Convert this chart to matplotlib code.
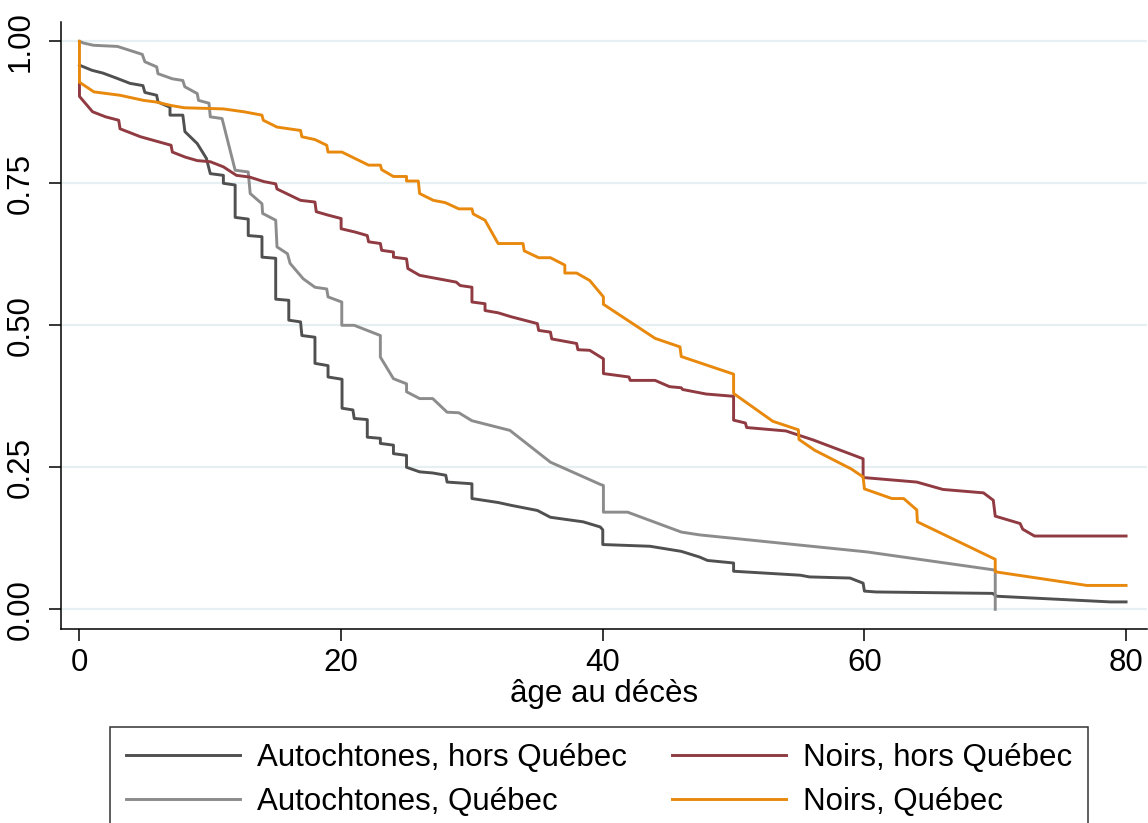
import matplotlib
matplotlib.use('Agg')
import matplotlib.pyplot as plt

# Kaplan-Meier style survival curves
aut_hq_age = [0, 0.95, 1.8, 2.85, 3.86, 4.85, 5.0, 5.9, 6.0, 6.92, 6.92, 7.9, 8.06, 9.0, 9.7, 10.0,
              11.0, 11.0, 11.9, 11.9, 12.9, 12.9, 13.95, 13.95, 15.0, 15.0, 16.0, 16.0, 16.9, 17.0,
              18.0, 18.0, 19.0, 19.0, 20.07, 20.07, 20.9, 21.0, 22.0, 22.0, 23.0, 23.0, 24.0, 24.0,
              25.0, 25.0, 26.0, 27.0, 28.0, 28.1, 30.0, 30.0, 32.0, 33.0, 35.0, 36.0, 38.5, 39.8,
              40.0, 40.0, 43.6, 46.0, 47.4, 48.0, 50.0, 50.0, 55.1, 55.8, 58.9, 59.9, 60.0, 60.9,
              69.8, 70.1, 78.8, 80.0]
aut_hq_surv = [0.958, 0.949, 0.944, 0.935, 0.926, 0.922, 0.910, 0.905, 0.893, 0.884, 0.870, 0.870, 0.841, 0.820, 0.794, 0.767,
               0.764, 0.750, 0.747, 0.690, 0.687, 0.658, 0.656, 0.620, 0.618, 0.546, 0.544, 0.509, 0.506, 0.482,
               0.479, 0.433, 0.429, 0.409, 0.405, 0.354, 0.351, 0.336, 0.334, 0.303, 0.301, 0.292, 0.289, 0.274,
               0.271, 0.250, 0.242, 0.240, 0.236, 0.224, 0.221, 0.195, 0.188, 0.183, 0.174, 0.162, 0.154, 0.145,
               0.140, 0.114, 0.111, 0.102, 0.092, 0.086, 0.0815, 0.067, 0.060, 0.057, 0.055, 0.046, 0.032, 0.0305,
               0.028, 0.023, 0.013, 0.013]

aut_q_age = [0, 0.3, 1.07, 2.9, 4.8, 5.0, 5.9, 6.0, 7.1, 7.9, 8.05, 9.0, 9.1, 9.9, 10.0, 10.9, 11.9,
             12.9, 13.05, 13.95, 14.0, 15.0, 15.1, 15.9, 16.1, 17.1, 18.0, 18.9, 19.0, 20.05, 20.05,
             21.0, 23.0, 23.0, 24.0, 25.0, 25.0, 26.0, 27.0, 28.1, 29.0, 30.0, 32.9, 36.0, 39.8, 40.05,
             40.05, 41.9, 46.0, 47.4, 60.2, 70.0, 70.0]
aut_q_surv = [1.0, 0.997, 0.993, 0.991, 0.977, 0.964, 0.955, 0.943, 0.934, 0.931, 0.920, 0.908, 0.896, 0.891, 0.867, 0.864, 0.773,
              0.770, 0.732, 0.714, 0.697, 0.685, 0.638, 0.626, 0.609, 0.582, 0.567, 0.564, 0.550, 0.541, 0.500,
              0.500, 0.482, 0.444, 0.406, 0.397, 0.383, 0.371, 0.371, 0.347, 0.346, 0.332, 0.315, 0.259, 0.220, 0.218,
              0.171, 0.171, 0.136, 0.131, 0.101, 0.069, 0.0]

noir_hq_age = [0, 0, 1.0, 2.0, 3.0, 3.1, 4.66, 6.06, 7.0, 7.1, 8.1, 9.0, 10.0, 11.0, 12.0, 13.0, 14.1,
               15.0, 15.1, 16.9, 18.0, 18.1, 19.0, 20.0, 20.0, 21.1, 22.0, 22.1, 23.0, 23.1, 24.0, 24.0,
               25.0, 25.1, 26.0, 28.8, 29.1, 30.0, 30.0, 31.0, 31.0, 32.0, 33.0, 35.0, 35.1, 36.0, 36.1,
               38.0, 38.1, 39.0, 40.05, 40.05, 42.0, 42.1, 44.0, 45.1, 46.0, 46.1, 47.9, 50.0, 50.0, 50.9,
               51.0, 54.0, 56.1, 59.9, 59.9, 64.0, 66.0, 69.1, 69.85, 70.0, 71.9, 72.1, 73.0, 80.0]
noir_hq_surv = [0.925, 0.903, 0.876, 0.867, 0.861, 0.846, 0.832, 0.823, 0.817, 0.805, 0.796, 0.790, 0.788, 0.779, 0.764, 0.761, 0.753,
                0.749, 0.740, 0.720, 0.717, 0.700, 0.694, 0.688, 0.670, 0.664, 0.658, 0.647, 0.644, 0.632, 0.629, 0.620,
                0.617, 0.600, 0.588, 0.576, 0.570, 0.567, 0.541, 0.538, 0.526, 0.522, 0.515, 0.503, 0.491, 0.488, 0.476,
                0.468, 0.457, 0.456, 0.441, 0.415, 0.409, 0.403, 0.403, 0.392, 0.390, 0.387, 0.379, 0.375, 0.333, 0.328,
                0.320, 0.314, 0.298, 0.265, 0.232, 0.224, 0.211, 0.205, 0.192, 0.164, 0.151, 0.141, 0.129, 0.129]

noir_q_age = [0, 0, 1.1, 3.1, 4.9, 5.9, 7.0, 8.0, 11.0, 12.55, 13.95, 14.05, 15.1, 16.9, 17.0, 18.0, 18.9,
              19.0, 20.06, 22.1, 23.0, 23.1, 24.0, 25.0, 25.0, 25.9, 26.0, 27.05, 27.96, 29.0, 30.0, 30.1,
              31.0, 32.0, 33.9, 34.0, 35.1, 36.0, 37.1, 37.1, 38.0, 39.0, 40.05, 40.05, 44.0, 45.9, 46.0,
              50.0, 50.0, 53.0, 54.95, 55.0, 56.2, 59.0, 59.9, 60.0, 62.1, 63.0, 64.0, 64.05, 70.0, 70.0,
              77.0, 80.0]
noir_q_surv = [1.0, 0.928, 0.911, 0.905, 0.896, 0.893, 0.887, 0.883, 0.881, 0.876, 0.870, 0.861, 0.849, 0.843, 0.832, 0.827, 0.817,
               0.805, 0.805, 0.782, 0.782, 0.774, 0.762, 0.762, 0.754, 0.754, 0.732, 0.720, 0.716, 0.705, 0.705, 0.696,
               0.685, 0.644, 0.644, 0.631, 0.619, 0.619, 0.606, 0.592, 0.592, 0.579, 0.550, 0.537, 0.477, 0.462, 0.445,
               0.414, 0.380, 0.331, 0.316, 0.299, 0.280, 0.247, 0.233, 0.212, 0.195, 0.195, 0.175, 0.154, 0.088, 0.066,
               0.042, 0.042]

labels = ['Autochtones, hors Québec', 'Autochtones, Québec', 'Noirs, hors Québec', 'Noirs, Québec']
colors = ['#505050', '#8c8c8c', '#903a42', '#e8890e']
x_ticks = [0, 20, 40, 60, 80]
y_ticks = [0, 0.25, 0.5, 0.75, 1.0]

plt.rcParams['font.family'] = ['Liberation Sans', 'DejaVu Sans']
plt.rcParams['font.size'] = 22.5

fig = plt.figure(figsize=(11.48, 8.23), dpi=100)
ax = fig.add_axes([60.5 / 1148, 1 - 629 / 823, (1147 - 60.5) / 1148, (629 - 22) / 823])

series = [(aut_hq_age, aut_hq_surv), (aut_q_age, aut_q_surv),
          (noir_hq_age, noir_hq_surv), (noir_q_age, noir_q_surv)]
for (age, surv), lab, col in zip(series, labels, colors):
    ax.plot(age, surv, color=col, lw=2.1, label=lab, zorder=3)

ax.set_xlim(-1.45, 81.6)
ax.set_ylim(-0.0347, 1.034)
ax.set_xticks(x_ticks)
ax.set_yticks(y_ticks)
ax.set_yticklabels(['%.2f' % v for v in y_ticks], rotation=90, va='center')
ax.yaxis.grid(True, color='#e6eff1', lw=1.6, zorder=0)
ax.set_axisbelow(True)

for s in ['top', 'right']:
    ax.spines[s].set_visible(False)
for s in ['left', 'bottom']:
    ax.spines[s].set_linewidth(1.1)
ax.tick_params(axis='both', direction='out', length=8.6, width=1.1)
ax.tick_params(axis='y', pad=9)
ax.tick_params(axis='x', pad=5)
ax.set_xlabel('âge au décès', labelpad=1)

# legend box runs off the bottom edge, as in the original
leg = fig.legend(loc='upper left', bbox_to_anchor=(110 / 1148, 1 - 727 / 823), borderaxespad=0,
                 ncol=2, frameon=True, fancybox=False, edgecolor='black', handlelength=3.65,
                 handletextpad=0.55, columnspacing=1.45, labelspacing=0.45, borderpad=0.5)
leg.get_frame().set_linewidth(1.1)

fig.savefig('out.png', dpi=100)
